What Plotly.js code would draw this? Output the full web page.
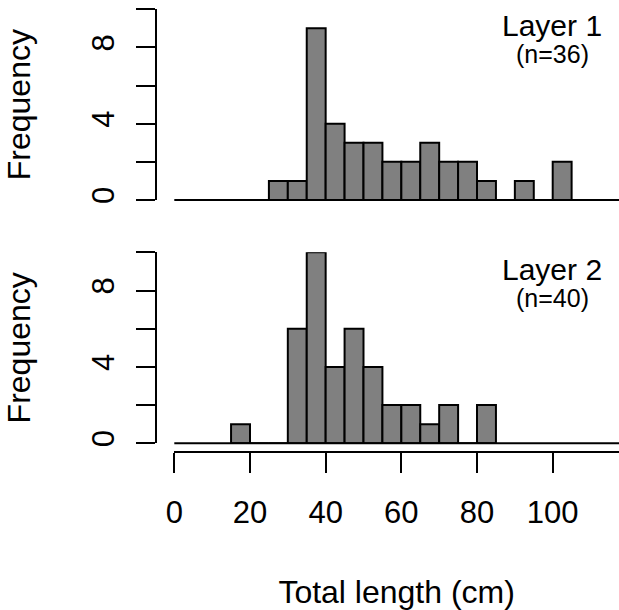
<!DOCTYPE html>
<html>
<head>
<meta charset="utf-8">
<script src="https://cdn.plot.ly/plotly-3.0.1.min.js"></script>
<style>html,body{margin:0;padding:0;background:#fff;}#chart{width:619px;height:610px;}</style>
</head>
<body>
<div id="chart"></div>
<script>
// ---- data ----
var binWidth = 5;
var layer1Bins = [25, 30, 35, 40, 45, 50, 55, 60, 65, 70, 75, 80, 85, 90, 95, 100];
var layer1Counts = [1, 1, 9, 4, 3, 3, 2, 2, 3, 2, 2, 1, 0, 1, 0, 2];
var layer2Bins = [15, 20, 25, 30, 35, 40, 45, 50, 55, 60, 65, 70, 75, 80];
var layer2Counts = [1, 0, 0, 6, 10, 4, 6, 4, 2, 2, 1, 2, 0, 2];
var layerLabels = ["Layer 1", "Layer 2"];
var nLabels = ["(n=36)", "(n=40)"];
var yTickVals = [0, 2, 4, 6, 8, 10];
var yTickText = ["0", "", "4", "", "8", ""];
var xTickVals = [0, 20, 40, 60, 80, 100];
var xTickText = ["0", "20", "40", "60", "80", "100"];

// ---- layout helpers (pixel geometry) ----
var W = 619, H = 610;
function fy(p) { return 1 - p / H; }
function fx(p) { return p / W; }
var FONT = "Liberation Sans, Arial, Helvetica, sans-serif";

var barStyle = { color: "#808080", line: { color: "#000", width: 2 } };

var traces = [
  { type: "bar", x: layer1Bins, y: layer1Counts, width: binWidth, offset: 0,
    marker: barStyle, xaxis: "x", yaxis: "y", hoverinfo: "x+y" },
  { type: "bar", x: layer2Bins, y: layer2Counts, width: binWidth, offset: 0,
    marker: barStyle, xaxis: "x2", yaxis: "y2", hoverinfo: "x+y" }
];

var xRange = [0, (W - 174.3) / 3.784];
var xDom = [fx(174.3), 1];

function yAxis(domain) {
  return {
    domain: domain, anchor: "free", position: fx(155.7), range: [0, 10],
    showline: true, linecolor: "#000", linewidth: 2,
    ticks: "outside", ticklen: 19, tickwidth: 2, tickcolor: "#000",
    tickvals: yTickVals, ticktext: yTickText, tickangle: -90,
    tickfont: { family: FONT, size: 31, color: "#000" },
    ticklabelstandoff: 9,
    showgrid: false, zeroline: false, fixedrange: true,
    title: { text: "Frequency", font: { family: FONT, size: 32, color: "#000" }, standoff: 45 }
  };
}

var layout = {
  width: W, height: H,
  margin: { l: 0, r: 0, t: 0, b: 0, pad: 0 },
  paper_bgcolor: "#fff", plot_bgcolor: "#fff",
  showlegend: false, bargap: 0,
  xaxis: { domain: xDom, range: xRange, anchor: "y", visible: false, fixedrange: true },
  xaxis2: {
    domain: xDom, range: xRange, anchor: "free", position: fy(452),
    showline: true, linecolor: "#000", linewidth: 2,
    ticks: "outside", ticklen: 20, tickwidth: 2, tickcolor: "#000",
    tickvals: xTickVals, ticktext: xTickText,
    tickfont: { family: FONT, size: 31, color: "#000" },
    ticklabelstandoff: 13,
    showgrid: false, zeroline: false, fixedrange: true,
    title: { text: "Total length (cm)", font: { family: FONT, size: 32, color: "#000" }, standoff: 50 }
  },
  yaxis: yAxis([fy(200), fy(9.3)]),
  yaxis2: yAxis([fy(443.3), fy(252.3)]),
  shapes: [
    { type: "line", xref: "paper", yref: "paper", x0: fx(174.3), x1: 1, y0: fy(200), y1: fy(200),
      line: { color: "#000", width: 2 } },
    { type: "line", xref: "paper", yref: "paper", x0: fx(174.3), x1: 1, y0: fy(443.3), y1: fy(443.3),
      line: { color: "#000", width: 2 } }
  ],
  annotations: [
    { xref: "paper", yref: "paper", x: fx(552), y: fy(25), text: layerLabels[0], showarrow: false,
      xanchor: "center", yanchor: "middle", font: { family: FONT, size: 30, color: "#000" } },
    { xref: "paper", yref: "paper", x: fx(552), y: fy(54), text: nLabels[0], showarrow: false,
      xanchor: "center", yanchor: "middle", font: { family: FONT, size: 25, color: "#000" } },
    { xref: "paper", yref: "paper", x: fx(552), y: fy(269), text: layerLabels[1], showarrow: false,
      xanchor: "center", yanchor: "middle", font: { family: FONT, size: 30, color: "#000" } },
    { xref: "paper", yref: "paper", x: fx(552), y: fy(298), text: nLabels[1], showarrow: false,
      xanchor: "center", yanchor: "middle", font: { family: FONT, size: 25, color: "#000" } }
  ]
};

Plotly.newPlot("chart", traces, layout, { staticPlot: true, displayModeBar: false });
</script>
</body>
</html>
